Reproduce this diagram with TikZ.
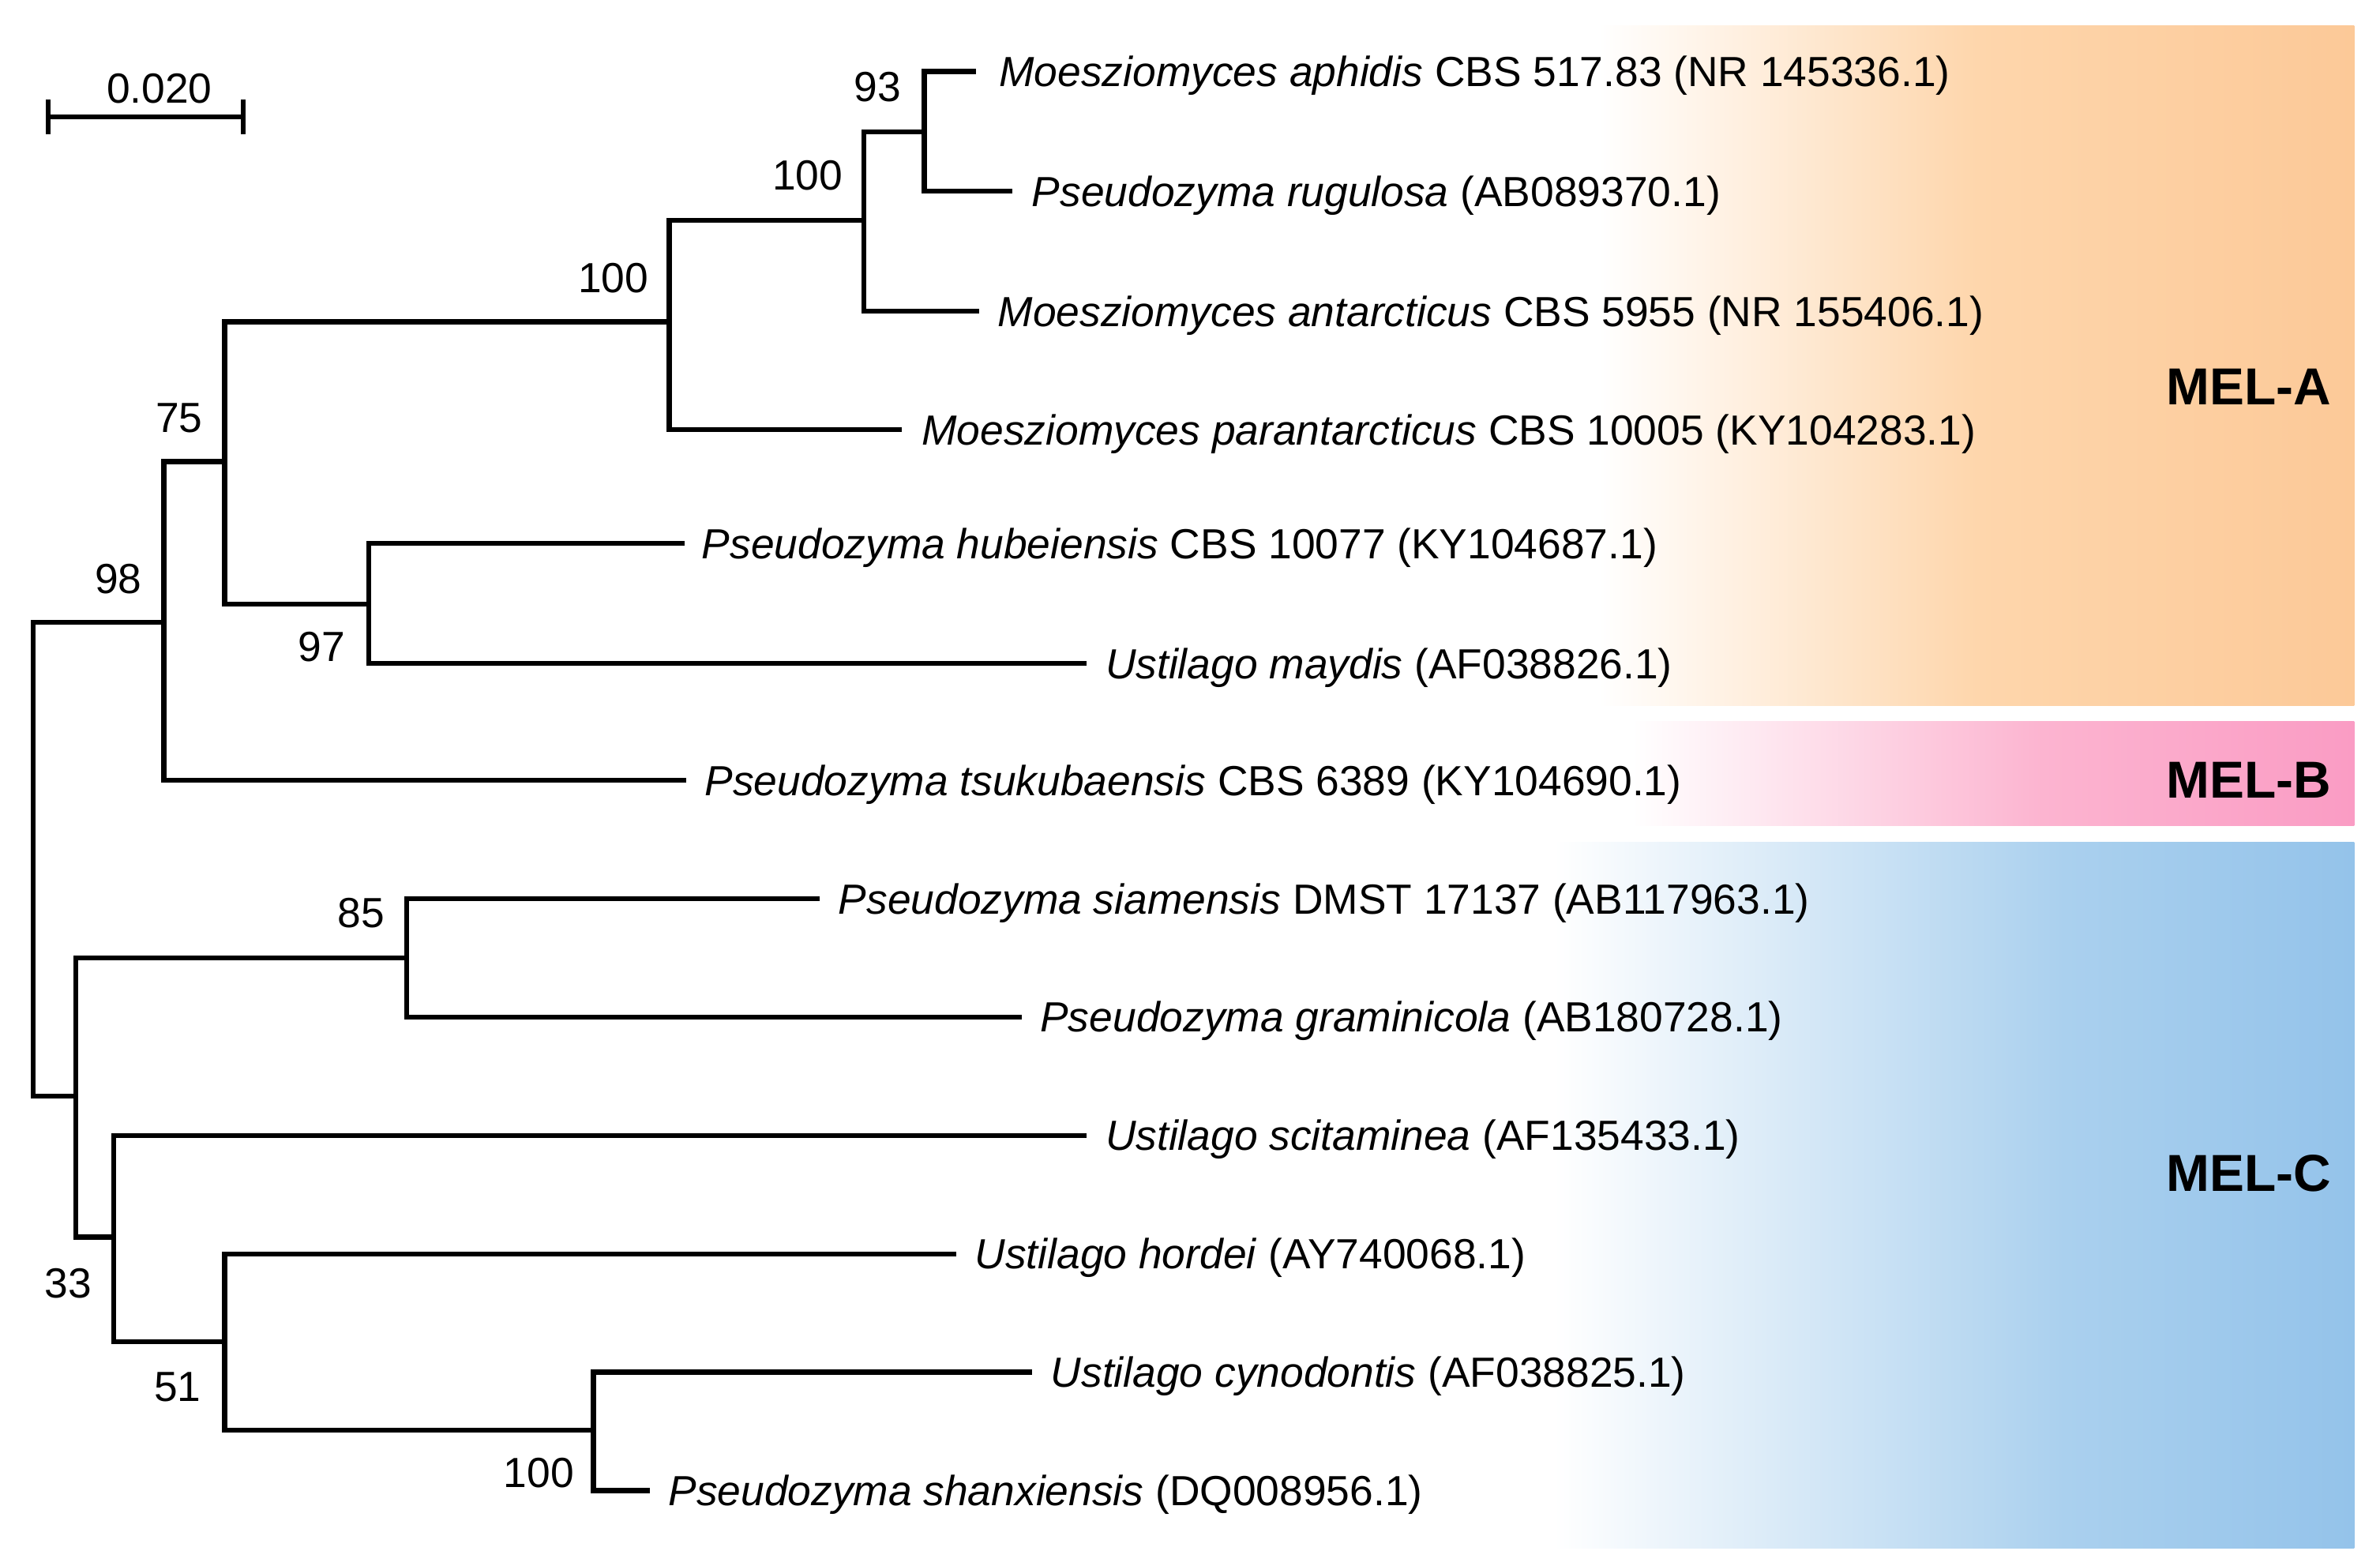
\documentclass[tikz,border=0pt]{standalone}
\usepackage{fontspec}
\setmainfont{Liberation Sans}
\usetikzlibrary{positioning,arrows.meta}

\definecolor{melA}{RGB}{252,201,152}
\definecolor{melAmid}{RGB}{254,214,172}
\definecolor{melB}{RGB}{250,156,196}
\definecolor{melBmid}{RGB}{252,180,208}
\definecolor{melC}{RGB}{148,195,234}
\definecolor{melCmid}{RGB}{170,208,238}

\pgfdeclarehorizontalshading{shadeA}{100bp}{color(0bp)=(white); color(29bp)=(white); color(52bp)=(melAmid); color(75bp)=(melA); color(100bp)=(melA)}
\pgfdeclarehorizontalshading{shadeB}{100bp}{color(0bp)=(white); color(31bp)=(white); color(56bp)=(melBmid); color(75bp)=(melB); color(100bp)=(melB)}
\pgfdeclarehorizontalshading{shadeC}{100bp}{color(0bp)=(white); color(28bp)=(white); color(58bp)=(melCmid); color(75bp)=(melC); color(100bp)=(melC)}

\begin{document}
\begin{tikzpicture}[x=0.02cm, y=-0.02cm,
    branch/.style={line width=1.9pt},
    leaf/.style={anchor=west, inner xsep=0pt, font=\fontsize{15.8}{19}\selectfont, text height=11.3pt, text depth=0pt},
    support/.style={inner sep=0pt, font=\fontsize{15.8}{19}\selectfont, text height=11.3pt, text depth=0pt},
    group/.style={anchor=east, inner sep=0pt, font=\fontsize{19.5}{23}\selectfont\bfseries}]

    \useasboundingbox (0,0) rectangle (1568,1031.6);

    % clade boxes
    \shade[shading=shadeA] (1010,17) rectangle (1551,465);
    \shade[shading=shadeB] (1010,475) rectangle (1551,544);
    \shade[shading=shadeC] (990,555) rectangle (1551,1020);

    \node[group] (labA) at (1536,255) {MEL-A};
    \node[group] (labB) at (1536,514) {MEL-B};
    \node[group] (labC) at (1536,773) {MEL-C};

    % scale bar
    \coordinate (sbL) at (30,77);
    \coordinate (sbR) at (162,77);
    \draw[branch, {Bar[width=0.46cm]}-{Bar[width=0.46cm]}] (sbL) -- (sbR);
    \node[support] (sbtext) at (105,58) {0.020};

    % internal nodes
    \coordinate (root) at (22,566);
    \coordinate (n98) at (108,410);
    \coordinate (n75) at (148,304);
    \coordinate (n100a) at (441,212);
    \coordinate (n100b) at (569,145);
    \coordinate (n93) at (609,87);
    \coordinate (n97) at (243,398);
    \coordinate (nlow) at (50,722);
    \coordinate (n85) at (268,631);
    \coordinate (n33) at (75,815);
    \coordinate (n51) at (148,884);
    \coordinate (n100c) at (391,942);

    % tips
    \coordinate (aphid) at (643,47);
    \coordinate (rugul) at (667,126);
    \coordinate (antarc) at (645,205);
    \coordinate (parant) at (594,283);
    \coordinate (hubei) at (451,358);
    \coordinate (maydis) at (716,437);
    \coordinate (tsuku) at (452,514);
    \coordinate (siam) at (540,592);
    \coordinate (gramin) at (673,670);
    \coordinate (scitam) at (716,748);
    \coordinate (hordei) at (630,826);
    \coordinate (cynod) at (680,904);
    \coordinate (shanx) at (428,982);

    % branches
    \draw[branch] (root) |- (n98);
    \draw[branch] (root) |- (nlow);
    \draw[branch] (n98) |- (n75);
    \draw[branch] (n98) |- (tsuku);
    \draw[branch] (n75) |- (n100a);
    \draw[branch] (n75) |- (n97);
    \draw[branch] (n100a) |- (n100b);
    \draw[branch] (n100a) |- (parant);
    \draw[branch] (n100b) |- (n93);
    \draw[branch] (n100b) |- (antarc);
    \draw[branch] (n93) |- (aphid);
    \draw[branch] (n93) |- (rugul);
    \draw[branch] (n97) |- (hubei);
    \draw[branch] (n97) |- (maydis);
    \draw[branch] (nlow) |- (n85);
    \draw[branch] (nlow) |- (n33);
    \draw[branch] (n85) |- (siam);
    \draw[branch] (n85) |- (gramin);
    \draw[branch] (n33) |- (scitam);
    \draw[branch] (n33) |- (n51);
    \draw[branch] (n51) |- (hordei);
    \draw[branch] (n51) |- (n100c);
    \draw[branch] (n100c) |- (cynod);
    \draw[branch] (n100c) |- (shanx);

    % support values
    \node[support] (s93) at (578,57) {93};
    \node[support] (s100b) at (532,115) {100};
    \node[support] (s100a) at (404,183) {100};
    \node[support] (s75) at (118,275) {75};
    \node[support] (s98) at (78,381) {98};
    \node[support] (s97) at (212,426) {97};
    \node[support] (s85) at (238,601) {85};
    \node[support] (s33) at (45,845) {33};
    \node[support] (s51) at (117,913) {51};
    \node[support] (s100c) at (355,970) {100};

    % taxa
    \node[leaf, right=0.3cm of aphid] (taphid) {\textit{Moesziomyces aphidis} CBS 517.83 (NR 145336.1)};
    \node[leaf, right=0.25cm of rugul] (trugul) {\textit{Pseudozyma rugulosa} (AB089370.1)};
    \node[leaf, right=0.24cm of antarc] (tantarc) {\textit{Moesziomyces antarcticus} CBS 5955 (NR 155406.1)};
    \node[leaf, right=0.26cm of parant] (tparant) {\textit{Moesziomyces parantarcticus} CBS 10005 (KY104283.1)};
    \node[leaf, right=0.22cm of hubei] (thubei) {\textit{Pseudozyma hubeiensis} CBS 10077 (KY104687.1)};
    \node[leaf, right=0.24cm of maydis] (tmaydis) {\textit{Ustilago maydis} (AF038826.1)};
    \node[leaf, right=0.24cm of tsuku] (ttsuku) {\textit{Pseudozyma tsukubaensis} CBS 6389 (KY104690.1)};
    \node[leaf, right=0.24cm of siam] (tsiam) {\textit{Pseudozyma siamensis} DMST 17137 (AB117963.1)};
    \node[leaf, right=0.24cm of gramin] (tgramin) {\textit{Pseudozyma graminicola} (AB180728.1)};
    \node[leaf, right=0.24cm of scitam] (tscitam) {\textit{Ustilago scitaminea} (AF135433.1)};
    \node[leaf, right=0.24cm of hordei] (thordei) {\textit{Ustilago hordei} (AY740068.1)};
    \node[leaf, right=0.24cm of cynod] (tcynod) {\textit{Ustilago cynodontis} (AF038825.1)};
    \node[leaf, right=0.24cm of shanx] (tshanx) {\textit{Pseudozyma shanxiensis} (DQ008956.1)};
\end{tikzpicture}
\end{document}
